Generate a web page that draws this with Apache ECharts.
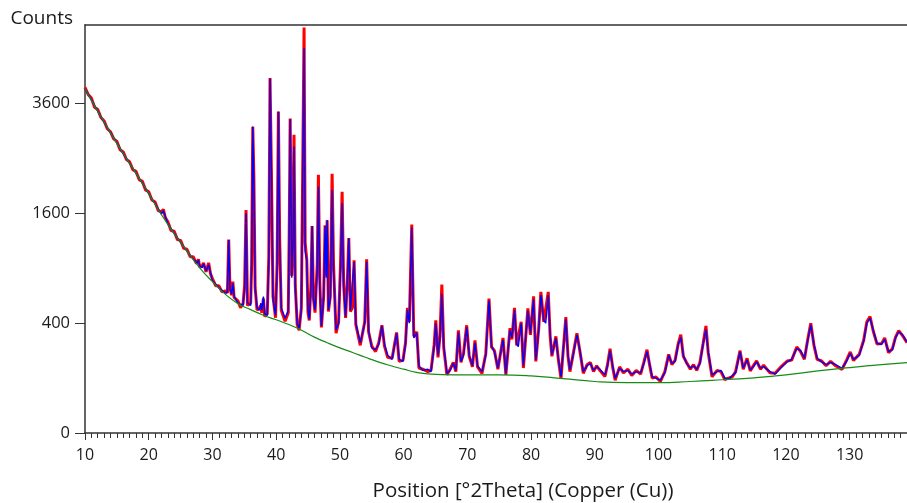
<!DOCTYPE html>
<html>
<head>
<meta charset="utf-8">
<script src="https://cdn.jsdelivr.net/npm/echarts@6/dist/echarts.min.js"></script>
<style>
html,body{margin:0;padding:0;background:#fff;}
#chart{width:907px;height:503px;}
</style>
</head>
<body>
<div id="chart"></div>
<script>
// ---- data (Position °2Theta, Counts) ----
var xTicks = [10, 20, 30, 40, 50, 60, 70, 80, 90, 100, 110, 120, 130];
var yTickCounts = [0, 400, 1600, 3600];

var observed = [
[10,3960],[10.5,3800],[11,3720],[11.5,3520],[12,3470],[12.5,3300],[13,3230],[13.5,3070],[14,3010],[14.5,2870],
[15,2820],[15.5,2660],[16,2620],[16.5,2480],[17,2440],[17.5,2300],[18,2270],[18.5,2130],[19,2100],[19.5,1960],
[20,1930],[20.5,1800],[21,1770],[21.5,1640],[22,1620],[22.3,1660],[22.6,1540],[23,1480],[23.5,1360],[24,1350],
[24.5,1240],[25,1230],[25.5,1130],[26,1120],[26.5,1030],[27,1030],[27.5,950],[27.8,1000],[28,910],[28.4,930],
[28.6,960],[29,860],[29.4,960],[29.7,840],[30,790],[30.5,720],[31,720],[31.5,660],[32,670],[32.35,650],
[32.55,1240],[32.75,700],[33,630],[33.2,760],[33.4,610],[34,580],[34.4,520],[34.8,555],[35.05,720],[35.27,1650],
[35.5,540],[36,560],[36.15,950],[36.33,3110],[36.5,2200],[36.7,700],[37,500],[37.4,520],[37.6,540],[37.75,480],
[38,600],[38.2,450],[38.6,470],[38.85,1050],[39.04,4180],[39.25,2300],[39.5,620],[39.9,440],[40.15,950],[40.35,3430],
[40.55,1250],[40.8,500],[41.4,415],[41.9,480],[42.05,1350],[42.2,3280],[42.45,820],[42.65,1250],[42.8,2950],[43,720],
[43.3,390],[43.6,350],[43.95,520],[44.2,2700],[44.38,5450],[44.55,1200],[44.8,1000],[45,480],[45.2,420],[45.45,720],
[45.64,1420],[45.85,600],[46.1,480],[46.45,950],[46.63,2210],[46.85,750],[47.1,370],[47.45,620],[47.68,1430],[47.85,820],
[48,1500],[48.2,490],[48.5,620],[48.78,2230],[49,950],[49.4,330],[49.8,410],[50.1,950],[50.35,1930],[50.6,720],
[50.9,440],[51.2,820],[51.4,1260],[51.65,490],[51.95,520],[52.23,990],[52.5,390],[53.2,255],[53.9,410],[54.2,1000],
[54.5,340],[55,250],[55.6,220],[56.1,270],[56.6,385],[57,250],[57.5,190],[58.2,185],[58.9,335],[59.3,170],
[59.9,175],[60.3,270],[60.6,520],[60.9,410],[61.28,1440],[61.6,310],[62.07,340],[62.4,140],[63,135],[63.8,125],
[64.3,130],[64.8,260],[65.05,420],[65.4,190],[65.7,310],[66,730],[66.3,240],[66.8,112],[67.3,135],[67.8,165],
[68.2,125],[68.6,350],[69,165],[69.4,210],[69.9,385],[70.3,195],[70.8,145],[71.2,285],[71.6,145],[72.3,118],
[72.9,210],[73.4,600],[73.8,245],[74.25,225],[74.8,135],[75.6,300],[76.05,112],[76.7,365],[77,290],[77.4,520],
[77.75,255],[78,255],[78.45,410],[78.8,140],[79.5,515],[79.9,320],[80.4,620],[80.75,170],[81.2,360],[81.54,660],
[82,410],[82.3,410],[82.7,660],[83,310],[83.27,195],[83.9,310],[84.3,175],[84.7,98],[85.46,445],[85.8,195],
[86.1,125],[86.6,205],[87.2,330],[87.7,215],[88.2,118],[88.8,155],[89.3,165],[89.8,125],[90.3,150],[90.8,130],
[91.6,106],[92,155],[92.4,235],[92.8,145],[93.2,92],[93.9,145],[94.5,120],[95.2,135],[95.8,110],[96.5,130],
[97.2,115],[97.7,165],[98.2,230],[98.6,155],[99,100],[99.6,104],[100.3,88],[101,125],[101.6,205],[102.1,155],
[102.6,175],[103.1,265],[103.5,320],[103.9,195],[104.4,165],[105,135],[105.5,155],[106,130],[106.5,165],[107,265],
[107.45,380],[107.8,215],[108.4,105],[109.2,130],[109.8,125],[110.4,95],[111,100],[111.6,105],[112.1,125],[112.8,225],
[113.3,135],[113.9,185],[114.4,128],[115,155],[115.4,172],[116,135],[116.5,152],[117.5,120],[118.3,118],[119.2,145],
[120.2,172],[120.9,176],[121.7,245],[122.3,220],[122.9,180],[123.4,285],[123.9,400],[124.4,255],[124.9,180],[125.6,172],
[126.3,150],[127,170],[127.8,150],[128.8,134],[129.5,175],[130.1,218],[130.6,175],[131.5,205],[132.2,285],[132.7,410],
[133.2,450],[133.7,345],[134.3,262],[135,265],[135.5,300],[136.1,214],[136.7,235],[137.2,305],[137.7,348],[138.3,315],
[139,270]
];

var calculated = [
[10,3926],[11,3680],[12,3434],[13,3200],[14,2990],[15,2790],[16,2590],[17,2410],[18,2240],[19,2070],
[20,1900],[21,1740],[22,1590],[22.3,1640],[22.6,1560],[23,1450],[24,1320],[25,1205],[26,1100],[27,1000],
[27.6,960],[27.8,990],[28,930],[28.4,905],[28.6,950],[29,870],[29.4,940],[29.7,850],[30,770],[31,700],
[32,650],[32.35,660],[32.55,1236],[32.75,690],[33,640],[33.2,744],[33.4,620],[34,560],[34.8,540],[35.05,700],
[35.27,1600],[35.5,560],[36,540],[36.15,900],[36.33,3113],[36.5,2100],[36.7,700],[37,520],[37.4,500],[37.6,560],
[37.75,500],[38,617],[38.2,470],[38.6,460],[38.85,1000],[39.04,4170],[39.25,2300],[39.5,600],[39.9,460],[40.15,900],
[40.35,3424],[40.55,1200],[40.8,520],[41.4,437],[41.9,500],[42.05,1300],[42.2,3265],[42.45,800],[42.65,1200],[42.8,2720],
[43,700],[43.3,400],[43.6,364],[43.95,500],[44.2,2500],[44.38,4910],[44.55,1100],[44.8,990],[45,500],[45.2,430],
[45.45,700],[45.64,1422],[45.85,600],[46.1,502],[46.45,900],[46.63,2013],[46.85,700],[47.1,380],[47.45,600],[47.68,1422],
[47.85,800],[48,1505],[48.2,500],[48.5,600],[48.78,1960],[49,900],[49.4,352],[49.8,400],[50.1,900],[50.35,1750],
[50.6,700],[50.9,450],[51.2,800],[51.4,1258],[51.65,500],[51.95,500],[52.23,973],[52.5,400],[53.2,269],[53.9,400],
[54.2,973],[54.5,350],[55,240],[55.6,230],[56.1,260],[56.6,380],[57,260],[57.5,200],[58.2,180],[58.9,330],
[59.3,180],[59.9,170],[60.3,260],[60.6,502],[60.9,400],[61.28,1400],[61.6,300],[62.07,330],[62.4,150],[63,130],
[63.8,135],[64.3,125],[64.8,250],[65.05,399],[65.4,200],[65.7,300],[66,640],[66.3,250],[66.8,118],[67.3,130],
[67.8,161],[68.2,130],[68.6,334],[69,170],[69.4,200],[69.9,371],[70.3,200],[70.8,150],[71.2,270],[71.6,150],
[72.3,125],[72.9,200],[73.4,581],[73.8,250],[74.25,219],[74.8,140],[75.6,287],[76.05,118],[76.7,352],[77,300],
[77.4,502],[77.75,260],[78,247],[78.45,399],[78.8,150],[79.5,496],[79.9,330],[80.4,593],[80.75,177],[81.2,350],
[81.54,632],[82,420],[82.3,400],[82.7,632],[83,320],[83.27,202],[83.9,298],[84.3,180],[84.7,105],[85.46,429],
[85.8,200],[86.1,132],[86.6,200],[87.2,319],[87.7,219],[88.2,125],[88.8,150],[89.3,161],[89.8,130],[90.3,145],
[90.8,135],[91.6,112],[92,150],[92.4,225],[92.8,150],[93.2,99],[93.9,139],[94.5,125],[95.2,130],[95.8,115],
[96.5,125],[97.2,120],[97.7,160],[98.2,219],[98.6,160],[99,105],[99.6,100],[100.3,93],[101,120],[101.6,200],
[102.1,160],[102.6,170],[103.1,260],[103.5,304],[103.9,200],[104.4,161],[105,140],[105.5,150],[106,135],[106.5,160],
[107,260],[107.45,356],[107.8,220],[108.4,112],[109.2,125],[109.8,130],[110.4,100],[111,97],[111.6,110],[112.1,120],
[112.8,219],[113.3,140],[113.9,177],[114.4,132],[115,150],[115.4,168],[116,140],[116.5,146],[117.5,125],[118.3,115],
[119.2,140],[120.2,168],[120.9,180],[121.7,238],[122.3,225],[122.9,185],[123.4,280],[123.9,387],[124.4,260],[124.9,185],
[125.6,168],[126.3,155],[127,165],[127.8,155],[128.8,139],[129.5,170],[130.1,211],[130.6,180],[131.5,200],[132.2,280],
[132.7,400],[133.2,437],[133.7,350],[134.3,267],[135,260],[135.5,291],[136.1,219],[136.7,230],[137.2,300],[137.7,340],
[138.3,320],[139,276]
];

var background = [
[10,3926],[12,3434],[14,2990],[16,2590],[18,2240],[20,1900],[22,1580],[24,1320],[26,1100],[28,905],
[30,760],[32,640],[34,555],[36,505],[38,460],[40,425],[42,390],[44,350],[46,305],[48,270],
[50,240],[52,215],[54,190],[56,168],[58,150],[60,135],[62,122],[64,116],[66,113],[70,112],
[75,112],[80,108],[85,98],[90,88],[95,84],[100,84],[105,88],[110,94],[115,101],[120,112],
[125,128],[130,142],[135,155],[139,164]
];

// square-root intensity scale, as in the original plot
function toSqrt(list) {
  return list.map(function (p) { return [p[0], Math.sqrt(p[1])]; });
}

var FONT = 'Open Sans';
var chart = echarts.init(document.getElementById('chart'), null, {renderer: 'canvas'});
chart.setOption({
  animation: false,
  backgroundColor: '#ffffff',
  grid: {left: 85, right: 0, top: 25, bottom: 70, containLabel: false, outerBoundsMode: 'none'},
  xAxis: [{
    type: 'value', min: 10, max: 139, interval: 10,
    name: 'Position [°2Theta] (Copper (Cu))',
    nameLocation: 'middle', nameGap: 48,
    nameTextStyle: {fontFamily: FONT, fontSize: 20.5, color: '#1a1a1a', padding: [0, 0, 0, 54]},
    axisLine: {show: true, onZero: false, lineStyle: {color: '#333', width: 1.5}},
    axisTick: {show: true, inside: false, length: 7, lineStyle: {color: '#333'}},
    minorTick: {show: true, splitNumber: 10, length: 5, lineStyle: {color: '#333'}},
    axisLabel: {fontFamily: FONT, fontSize: 16, color: '#1a1a1a', margin: 14, showMaxLabel: false,
      formatter: function (v) { return xTicks.indexOf(v) >= 0 ? String(v) : ''; }},
    splitLine: {show: false}
  }, {
    type: 'value', position: 'top', min: 10, max: 139,
    axisLine: {show: true, onZero: false, lineStyle: {color: '#333', width: 1.5}},
    axisTick: {show: false}, axisLabel: {show: false}, splitLine: {show: false}
  }],
  yAxis: {
    type: 'value', min: 0, max: 74.3, interval: 20,
    name: 'Counts', nameLocation: 'end', nameGap: -3,
    nameTextStyle: {fontFamily: FONT, fontSize: 19, color: '#1a1a1a', align: 'right', padding: [0, 12, 0, 0]},
    axisLine: {show: true, onZero: false, lineStyle: {color: '#333', width: 1.5}},
    axisTick: {show: true, inside: false, length: 10, lineStyle: {color: '#333'}},
    axisLabel: {fontFamily: FONT, fontSize: 16.5, color: '#1a1a1a', margin: 15, showMaxLabel: false,
      formatter: function (v) {
        var c = Math.round(v * v);
        return yTickCounts.indexOf(c) >= 0 ? String(c) : '';
      }},
    splitLine: {show: false}
  },
  series: [
    {type: 'line', name: 'Observed', data: toSqrt(observed), showSymbol: false, symbol: 'none',
      lineStyle: {color: '#ff0000', width: 3}, z: 2},
    {type: 'line', name: 'Calculated', data: toSqrt(calculated), showSymbol: false, symbol: 'none',
      lineStyle: {color: '#0000ff', width: 1.4}, z: 3},
    {type: 'line', name: 'Background', data: toSqrt(background), smooth: true, showSymbol: false, symbol: 'none',
      lineStyle: {color: '#168c16', width: 1.2}, z: 4}
  ]
});
</script>
</body>
</html>
